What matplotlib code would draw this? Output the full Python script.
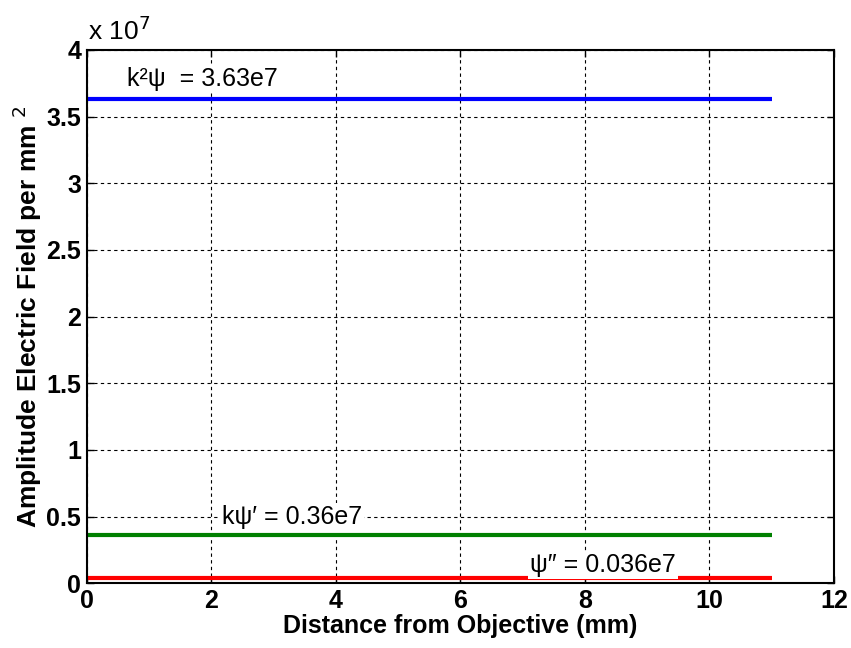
import matplotlib
matplotlib.use("Agg")
import matplotlib.pyplot as plt
from matplotlib.ticker import FuncFormatter

plt.rcParams['font.family'] = ['Liberation Sans', 'DejaVu Sans']

# Distance range (mm) and constant field levels
distance = [0, 11]
k2psi = [3.63e7, 3.63e7]
kpsi1 = [0.36e7, 0.36e7]
psi2 = [0.036e7, 0.036e7]

series_colors = ['#0000ff', '#008000', '#ff0000']
labels = ['k\u00b2\u03c8  = 3.63e7', 'k\u03c8\u2032 = 0.36e7', '\u03c8\u2033 = 0.036e7']
label_pos = [(0.64, 3.78e7), (2.17, 0.495e7), (7.12, 0.135e7)]

fig = plt.figure(figsize=(8.51, 6.48), dpi=100)
ax = fig.add_axes([0.102, 0.100, 0.878, 0.823])

for ys, c in zip([k2psi, kpsi1, psi2], series_colors):
    ax.plot(distance, ys, color=c, linewidth=3, solid_capstyle='butt', zorder=2)

for txt, (x, y) in zip(labels, label_pos):
    ax.text(x, y, txt, fontsize=18, va='center', ha='left', zorder=3,
            bbox=dict(facecolor='white', edgecolor='none', pad=1.5))

ax.set_xlim(0, 12)
ax.set_ylim(0, 4e7)
ax.set_xticks(range(0, 13, 2))
ax.set_yticks([i * 0.5e7 for i in range(9)])
ax.yaxis.set_major_formatter(FuncFormatter(lambda v, p: f"{v / 1e7:g}"))
ax.grid(True, color='black', linestyle=(0, (3, 3)), linewidth=0.8)
ax.set_axisbelow(True)

for s in ax.spines.values():
    s.set_linewidth(1.5)
ax.tick_params(direction='in', length=5, width=1, labelsize=18, pad=4,
               top=True, right=True)
for lab in ax.get_xticklabels() + ax.get_yticklabels():
    lab.set_fontweight('bold')

ax.set_xlabel('Distance from Objective (mm)', fontsize=18, fontweight='bold', labelpad=1)
ax.set_ylabel('Amplitude Electric Field per mm $^{2}$', fontsize=19, fontweight='bold', labelpad=2)
fig.text(0.103, 0.93, 'x 10$^{7}$', fontsize=19, ha='left', va='bottom')

fig.savefig('out.png', dpi=100, facecolor='white')
